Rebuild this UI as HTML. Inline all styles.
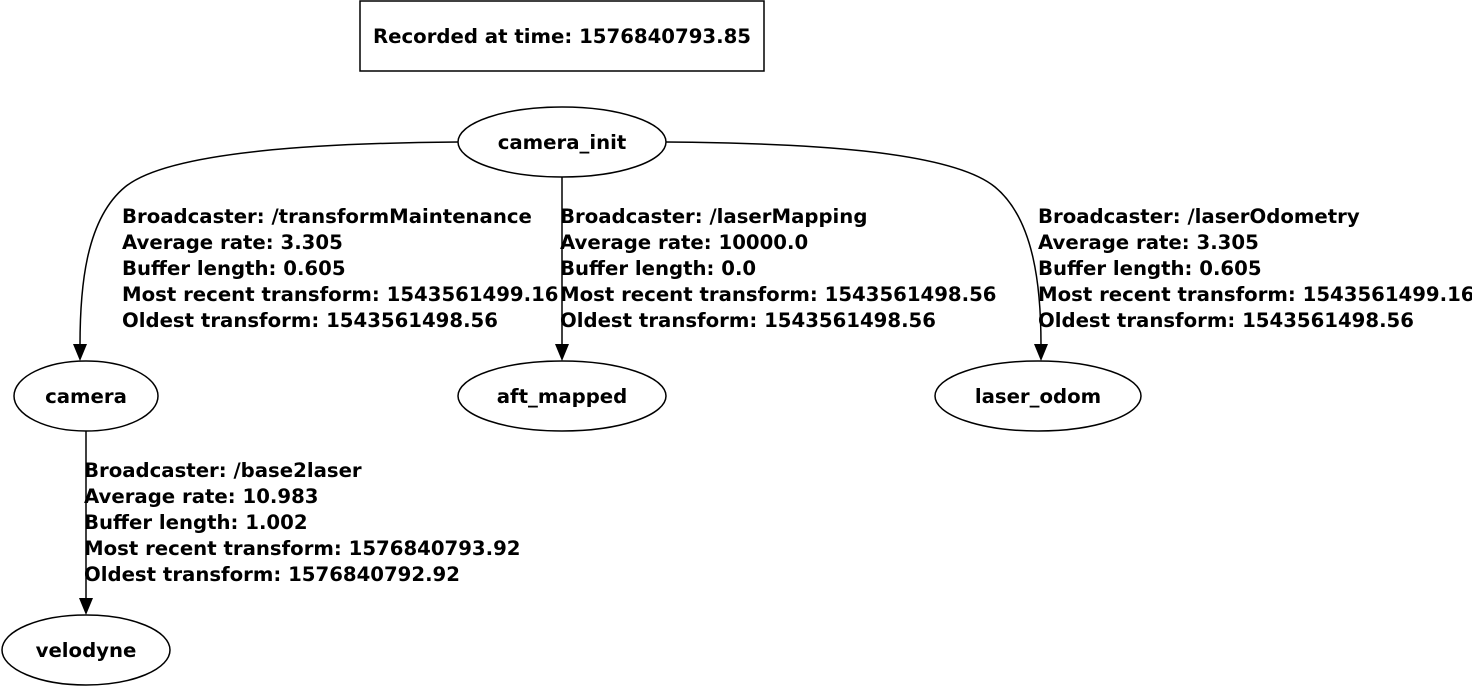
<!DOCTYPE html>
<html><head><meta charset="utf-8"><style>
html,body{margin:0;padding:0;background:#fff;}
svg text{font-family:"DejaVu Sans","Liberation Sans",sans-serif;font-weight:bold;font-size:19.7px;fill:#000;}
</style></head><body>
<svg width="1472" height="686" viewBox="0 0 1472 686" xmlns="http://www.w3.org/2000/svg">
<g fill="none" stroke="#000" stroke-width="1.5">
<rect x="360" y="1" width="404" height="70"/>
<ellipse cx="562" cy="142" rx="104" ry="35"/>
<ellipse cx="86" cy="396" rx="72" ry="35"/>
<ellipse cx="562" cy="396" rx="104" ry="35"/>
<ellipse cx="1038" cy="396" rx="103" ry="35"/>
<ellipse cx="86" cy="650" rx="84" ry="35"/>
</g>
<g fill="none" stroke="#000" stroke-width="1.5">
<path d="M458,142 C330,143 170,150 125,187 C85,220 80,290 80,345"/>
<path d="M562,177 L562,345"/>
<path d="M666,142 C800,143 950,150 995,187 C1035,220 1041,290 1041,345"/>
<path d="M86,431 L86,599"/>
</g>
<g fill="#000">
<path d="M73,344 L87,344 L80,361 Z"/>
<path d="M555,344 L569,344 L562,361 Z"/>
<path d="M1034,344 L1048,344 L1041,361 Z"/>
<path d="M79,598 L93,598 L86,615 Z"/>
</g>
<text x="562" y="43" text-anchor="middle">Recorded at time: 1576840793.85</text>
<text x="562" y="149" text-anchor="middle">camera_init</text>
<text x="86" y="403" text-anchor="middle">camera</text>
<text x="562" y="403" text-anchor="middle">aft_mapped</text>
<text x="1038" y="403" text-anchor="middle">laser_odom</text>
<text x="86" y="657" text-anchor="middle">velodyne</text>
<text x="122" y="223">Broadcaster: /transformMaintenance</text>
<text x="122" y="249">Average rate: 3.305</text>
<text x="122" y="275">Buffer length: 0.605</text>
<text x="122" y="301">Most recent transform: 1543561499.16</text>
<text x="122" y="327">Oldest transform: 1543561498.56</text>
<text x="560" y="223">Broadcaster: /laserMapping</text>
<text x="560" y="249">Average rate: 10000.0</text>
<text x="560" y="275">Buffer length: 0.0</text>
<text x="560" y="301">Most recent transform: 1543561498.56</text>
<text x="560" y="327">Oldest transform: 1543561498.56</text>
<text x="1038" y="223">Broadcaster: /laserOdometry</text>
<text x="1038" y="249">Average rate: 3.305</text>
<text x="1038" y="275">Buffer length: 0.605</text>
<text x="1038" y="301">Most recent transform: 1543561499.16</text>
<text x="1038" y="327">Oldest transform: 1543561498.56</text>
<text x="84" y="477">Broadcaster: /base2laser</text>
<text x="84" y="503">Average rate: 10.983</text>
<text x="84" y="529">Buffer length: 1.002</text>
<text x="84" y="555">Most recent transform: 1576840793.92</text>
<text x="84" y="581">Oldest transform: 1576840792.92</text>
</svg>
</body></html>
